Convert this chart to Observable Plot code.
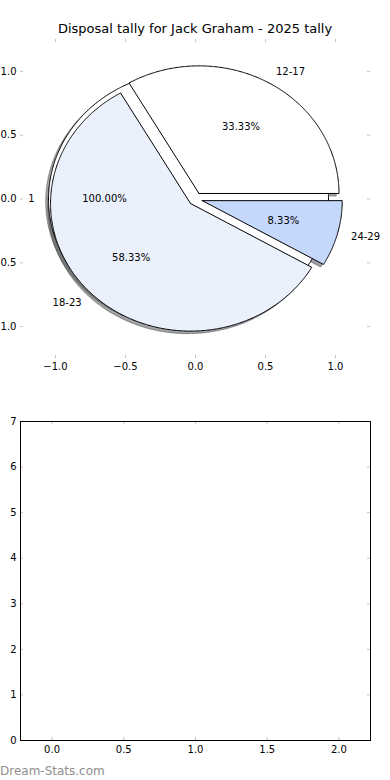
<!DOCTYPE html>
<html><head><meta charset="utf-8">
<script src="https://cdn.jsdelivr.net/npm/d3@7"></script>
<script src="https://cdn.jsdelivr.net/npm/@observablehq/plot@0.6"></script>
<style>
body{margin:0;background:#fff;}
#wrap{position:relative;width:390px;height:780px;overflow:hidden;font-family:"DejaVu Sans",sans-serif;color:#000;}
#title{position:absolute;top:21px;left:0;width:390px;text-align:center;font-size:13px;line-height:normal;white-space:nowrap;}
#pie{position:absolute;top:0;left:0;}
#bars{position:absolute;top:400px;left:0;}
#mark{position:absolute;top:764px;left:0;font-size:12px;color:#8f8f8f;line-height:normal;white-space:nowrap;}
svg{overflow:hidden;}
</style></head><body><div id="wrap"><div id="pie"></div><div id="title"></div><div id="bars"></div><div id="mark"></div></div>
<script>
// ---- data ----
const chartTitle = "Disposal tally for Jack Graham - 2025 tally";
const totalLabels = ["1"];
const totalCounts = [1];
const ageGroups = ["12-17", "18-23", "24-29"];
const ageCounts = [4, 7, 1];
const sliceColors = ["#ffffff", "#eaf0fc", "#c5d8fc"];
const explodeBy = 0.05;
const pieTicks = [-1, -0.5, 0, 0.5, 1];
const barPositions = [0, 1, 2];
const barValues = [0, 0, 0];
const barXTicks = [0, 0.5, 1, 1.5, 2];
const barYTicks = [0, 1, 2, 3, 4, 5, 6, 7];
const watermarkText = "Dream-Stats.com";

// ---- pie geometry from the values ----
function wedges(labels, values, colors, group) {
  const total = d3.sum(values);
  let a0 = 0;
  return labels.map((label, i) => {
    const frac = values[i] / total;
    const a1 = a0 + frac * 2 * Math.PI;
    const mid = (a0 + a1) / 2;
    const w = {key: group + label, label, frac, a0, a1, mid,
      cx: explodeBy * Math.cos(mid), cy: explodeBy * Math.sin(mid),
      full: frac >= 0.9999, color: colors[i % colors.length]};
    a0 = a1;
    return w;
  });
}
function outline(w, ox = 0, oy = 0) {
  const pts = [];
  const n = Math.max(4, Math.ceil((w.a1 - w.a0) / (Math.PI / 360)));
  const c = [w.cx + ox, w.cy + oy];
  if (!w.full) pts.push(c);
  for (let k = 0; k <= n; k++) {
    const a = w.a0 + (w.a1 - w.a0) * k / n;
    pts.push([c[0] + Math.cos(a), c[1] + Math.sin(a)]);
  }
  if (!w.full) pts.push(c);
  return pts.map(([x, y]) => ({x, y, key: w.key, color: w.color}));
}
const allWedges = [
  ...wedges(totalLabels, totalCounts, sliceColors, "a"),
  ...wedges(ageGroups, ageCounts, sliceColors, "b")
];
const shadowPts = allWedges.flatMap(w => outline(w, -0.02, -0.02).map(p => {
  const c = d3.rgb(p.color);
  return {...p, color: d3.rgb(c.r * 0.3, c.g * 0.3, c.b * 0.3).formatHex()};
}));
const wedgePts = allWedges.flatMap(w => outline(w));
const labelData = allWedges.map(w => ({
  text: w.label,
  x: w.cx + 1.1 * Math.cos(w.mid), y: w.cy + 1.1 * Math.sin(w.mid)
}));
const pctData = allWedges.map(w => ({
  text: (w.frac * 100).toFixed(2) + "%",
  x: w.cx + 0.6 * Math.cos(w.mid), y: w.cy + 0.6 * Math.sin(w.mid)
}));

const tickGray = "#c4c4c4";
const font = {fontFamily: "DejaVu Sans", fontSize: "10px", color: "#000", background: "transparent", overflow: "hidden"};

// ---- pie panel ----
const W = 390, pieH = 390, mL = 20, mR = 20, pT = 39, pB = 32;
const pieInnerW = W - mL - mR, pieInnerH = pieH - pT - pB;
const pie = Plot.plot({
  width: W, height: pieH,
  marginLeft: mL, marginRight: mR, marginTop: pT, marginBottom: pB,
  x: {domain: [-1.25, 1.25], label: null},
  y: {domain: [-1.25, 1.25], label: null},
  style: font,
  marks: [
    Plot.line(shadowPts, {x: "x", y: "y", z: "key", fill: "color", fillOpacity: 0.5, stroke: "color", strokeOpacity: 0.5, strokeWidth: 1, curve: "linear"}),
    Plot.line(wedgePts, {x: "x", y: "y", z: "key", fill: "color", stroke: "#000", strokeWidth: 1, strokeLinejoin: "miter", curve: "linear"}),
    Plot.text(labelData, {filter: d => d.x > 0, x: "x", y: "y", text: "text", textAnchor: "start", fontSize: 10, fill: "#000"}),
    Plot.text(labelData, {filter: d => d.x <= 0, x: "x", y: "y", text: "text", textAnchor: "end", fontSize: 10, fill: "#000"}),
    Plot.text(pctData, {x: "x", y: "y", text: "text", textAnchor: "middle", fontSize: 10, fill: "#000"}),
    Plot.tickY(pieTicks, {y: d => d, stroke: tickGray, insetRight: pieInnerW - 3}),
    Plot.tickY(pieTicks, {y: d => d, stroke: tickGray, insetLeft: pieInnerW - 3}),
    Plot.tickX(pieTicks, {x: d => d, stroke: tickGray, insetBottom: pieInnerH - 3}),
    Plot.tickX(pieTicks, {x: d => d, stroke: tickGray, insetTop: pieInnerH - 3}),
    Plot.axisX(pieTicks, {anchor: "bottom", tickSize: 0, tickPadding: 4, tickFormat: d3.format(".1f"), fontSize: 10, label: null}),
    Plot.axisY(pieTicks, {anchor: "left", tickSize: 0, tickPadding: 4, tickFormat: d3.format(".1f"), fontSize: 10, label: null})
  ]
});
document.getElementById("pie").appendChild(pie);
document.getElementById("title").textContent = chartTitle;

// ---- empty bar panel ----
const barH = 380, bT = 21, bB = 40;
const barInnerW = W - mL - mR, barInnerH = barH - bT - bB;
const barData = barPositions.map((p, i) => ({p, v: barValues[i]}));
const bars = Plot.plot({
  width: W, height: barH,
  marginLeft: mL, marginRight: mR, marginTop: bT, marginBottom: bB,
  x: {domain: [-0.22, 2.22], label: null},
  y: {domain: [0, 7], label: null},
  style: font,
  marks: [
    Plot.rectY(barData, {x1: d => d.p - 0.4, x2: d => d.p + 0.4, y: "v", fill: sliceColors[2]}),
    Plot.tickY(barYTicks, {y: d => d, stroke: tickGray, insetRight: barInnerW - 3}),
    Plot.tickY(barYTicks, {y: d => d, stroke: tickGray, insetLeft: barInnerW - 3}),
    Plot.tickX(barXTicks, {x: d => d, stroke: tickGray, insetBottom: barInnerH - 3}),
    Plot.tickX(barXTicks, {x: d => d, stroke: tickGray, insetTop: barInnerH - 3}),
    Plot.frame({stroke: "#000", strokeWidth: 1}),
    Plot.axisX(barXTicks, {anchor: "bottom", tickSize: 0, tickPadding: 5, tickFormat: d3.format(".1f"), fontSize: 10, label: null}),
    Plot.axisY(barYTicks, {anchor: "left", tickSize: 0, tickPadding: 4, tickFormat: d3.format("d"), fontSize: 10, label: null})
  ]
});
document.getElementById("bars").appendChild(bars);
document.getElementById("mark").textContent = watermarkText;
</script></body></html>
